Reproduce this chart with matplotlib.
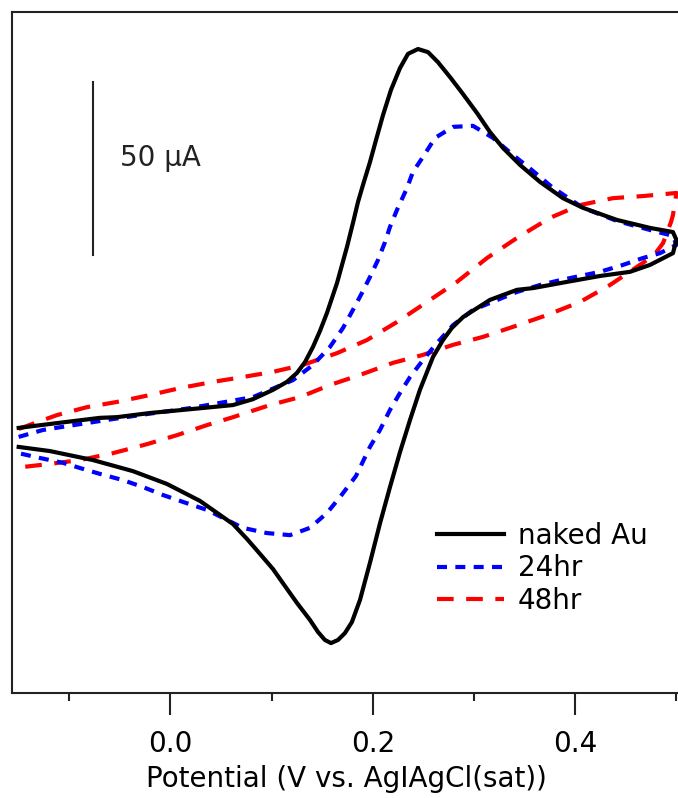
import matplotlib.pyplot as plt

# potential (V vs Ag|AgCl) and current (uA) for each scan, forward then reverse
naked_e = [-0.15, -0.109, -0.0697, -0.0529, -0.0203, 0.0124, 0.0618, 0.0815, 0.1013,
           0.1151, 0.125, 0.1329, 0.1408, 0.1477, 0.1546, 0.1646, 0.1744, 0.1803,
           0.1853, 0.1902, 0.1971, 0.2031, 0.21, 0.2179, 0.2268, 0.2347, 0.2446,
           0.2545, 0.2643, 0.2762, 0.289, 0.3029, 0.3157, 0.3286, 0.3454, 0.3651,
           0.3878, 0.4076, 0.4412, 0.4738, 0.4965, 0.5,
           0.4965, 0.4738, 0.454, 0.4244, 0.3918, 0.3582, 0.3424, 0.3157, 0.289,
           0.2781, 0.2693, 0.2594, 0.2465, 0.2367, 0.2268, 0.2169, 0.2071, 0.1971,
           0.1873, 0.1793, 0.1724, 0.1655, 0.1586, 0.1526, 0.1458, 0.1378, 0.125,
           0.1131, 0.1013, 0.0884, 0.0756, 0.0618, 0.0291, -0.0035, -0.0371, -0.0766,
           -0.1191, -0.15]
naked_i = [3.5, 5.0, 6.4, 6.6, 7.8, 8.7, 10.1, 11.8, 14.5,
           16.8, 19.4, 22.5, 26.9, 31.5, 36.7, 45.4, 55.8, 62.7,
           68.8, 73.7, 80.3, 86.7, 93.9, 101.2, 107.5, 111.6, 113.0,
           112.1, 109.2, 104.9, 100.0, 94.5, 89.0, 84.4, 79.5, 74.6,
           69.9, 67.1, 63.6, 61.3, 60.1, 57.8,
           54.0, 50.6, 48.6, 47.4, 45.7, 43.9, 43.4, 40.5, 35.5,
           32.4, 28.9, 24.0, 14.5, 5.8, -3.5, -13.6, -24.0, -35.5,
           -46.2, -52.6, -55.8, -57.8, -58.7, -57.8, -55.5, -52.0, -47.1,
           -42.2, -37.3, -32.9, -28.6, -24.3, -17.6, -12.7, -9.0, -5.8,
           -3.2, -2.0]

hr24_e = [-0.15, -0.126, -0.1023, -0.0627, -0.0232, 0.0193, 0.0815, 0.121, 0.1408,
          0.1576, 0.1705, 0.1803, 0.1892, 0.1971, 0.205, 0.212, 0.2169, 0.2238,
          0.2337, 0.2396, 0.2495, 0.2614, 0.2792, 0.2989, 0.3187, 0.3384, 0.3572,
          0.377, 0.4076, 0.4412, 0.4738, 0.4965, 0.5,
          0.4837, 0.4669, 0.4471, 0.4244, 0.4047, 0.3849, 0.3652, 0.3424, 0.2989,
          0.2792, 0.2633, 0.2495, 0.2367, 0.2268, 0.2169, 0.207, 0.1971, 0.1833,
          0.1675, 0.1546, 0.1378, 0.1181, 0.0954, 0.0716, 0.0558, 0.036, 0.0124,
          -0.0074, -0.0272, -0.0469, -0.0697, -0.0894, -0.1062, -0.129, -0.15]
hr24_i = [0.9, 2.9, 4.0, 5.8, 7.5, 9.2, 12.4, 17.3, 21.7,
          26.9, 32.4, 37.6, 42.5, 47.1, 52.0, 57.2, 61.6, 66.5,
          72.8, 77.5, 81.8, 87.3, 90.5, 90.8, 87.3, 82.4, 78.0,
          73.1, 67.1, 63.3, 60.7, 59.0, 56.4,
          54.0, 52.6, 50.6, 48.6, 47.4, 46.2, 44.8, 42.8, 37.6,
          33.2, 28.0, 23.1, 18.2, 13.6, 8.7, 2.9, -2.0, -10.4,
          -16.5, -21.1, -25.4, -27.5, -26.9, -25.4, -23.1, -20.2, -17.9,
          -15.9, -13.6, -11.6, -9.8, -8.1, -6.6, -5.2, -3.8]

hr48_e = [-0.15, -0.1122, -0.0825, -0.0529, -0.0203, 0.0094, 0.042, 0.0716, 0.1013,
          0.1309, 0.1645, 0.1942, 0.2238, 0.2535, 0.2831, 0.3128, 0.3424, 0.375,
          0.4047, 0.4373, 0.4669, 0.5,
          0.4965, 0.4946, 0.4867, 0.4788, 0.4669, 0.4343, 0.4047, 0.372, 0.3384,
          0.3088, 0.2792, 0.2495, 0.2199, 0.1873, 0.1576, 0.128, 0.0983, 0.0618,
          0.036, 0.0064, -0.0232, -0.0568, -0.0894, -0.1191, -0.1458, -0.15]
hr48_i = [3.2, 7.2, 9.5, 11.0, 13.0, 15.0, 16.8, 18.2, 19.7,
          21.7, 25.1, 28.9, 34.1, 39.9, 45.7, 52.6, 58.4, 64.2,
          67.9, 69.9, 70.5, 71.4,
          65.0, 63.0, 56.9, 53.8, 51.2, 44.8, 39.9, 36.1, 32.7,
          29.8, 27.5, 24.6, 22.3, 18.8, 15.9, 12.4, 10.1, 6.6,
          4.3, 1.4, -1.2, -3.8, -5.8, -6.9, -7.8, -7.8]

scale_bar_e = -0.0766
scale_bar_i = [53.5, 103.5]
scale_bar_label = "50 \u03bcA"

FONT = 20

fig = plt.figure(figsize=(6.78, 7.98), dpi=100)
ax = fig.add_axes([12 / 678, 105 / 798, 668 / 678, 681 / 798])

ax.plot(naked_e, naked_i, color="black", lw=3, label="naked Au", zorder=3)
l24, = ax.plot(hr24_e, hr24_i, color="#0000ff", lw=3, label="24hr", zorder=2)
l24.set_dashes((2.4, 2.0))
l48, = ax.plot(hr48_e, hr48_i, color="#ff0000", lw=3, label="48hr", zorder=1)
l48.set_dashes((4.0, 3.0))

# current scale bar in place of a y axis
ax.plot([scale_bar_e, scale_bar_e], scale_bar_i, color="#222222", lw=1.5)
ax.text(-0.0499, sum(scale_bar_i) / 2 + 3, scale_bar_label, fontsize=FONT,
        va="center", ha="left", color="#222222")

ax.set_xlim(-0.1566, -0.1566 + 668 / 1012)
ax.set_ylim((440 - 693) / 3.46, (440 - 12) / 3.46)

ax.set_xticks([0.0, 0.2, 0.4])
ax.set_xticklabels(["0.0", "0.2", "0.4"], fontsize=FONT)
ax.set_xticks([-0.1, 0.1, 0.3, 0.5], minor=True)
ax.set_yticks([])
ax.tick_params(axis="x", which="major", direction="out", length=16, width=1.5,
               pad=11, colors="#222222", labelcolor="black")
ax.tick_params(axis="x", which="minor", direction="out", length=6, width=1.5,
               colors="#222222")
ax.set_xlabel("Potential (V vs. AgIAgCl(sat))", fontsize=FONT, labelpad=5)

for side in ax.spines.values():
    side.set_linewidth(1.5)
    side.set_color("#222222")

leg = ax.legend(loc="upper left", bbox_to_anchor=(437 / 678, (798 - 522) / 798),
                bbox_transform=fig.transFigure, frameon=False, fontsize=FONT,
                handlelength=2.4, handletextpad=0.5, labelspacing=0.16,
                borderpad=0, borderaxespad=0)

fig.savefig("out.png", dpi=100)
